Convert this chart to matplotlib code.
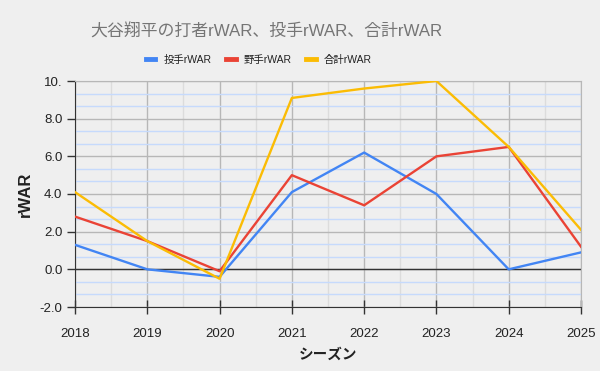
import numpy as np
import matplotlib
matplotlib.use("Agg")
import matplotlib.pyplot as plt
from matplotlib.ticker import MultipleLocator

plt.rcParams['font.family'] = ['Liberation Sans', 'Noto Sans CJK JP', 'DejaVu Sans']

seasons = [2018, 2019, 2020, 2021, 2022, 2023, 2024, 2025]
pitcher = [1.3, 0.0, -0.4, 4.1, 6.2, 4.0, 0.0, 0.9]
batter = [2.8, 1.5, -0.1, 5.0, 3.4, 6.0, 6.5, 1.2]
total = [4.1, 1.5, -0.5, 9.1, 9.6, 10.0, 6.5, 2.1]
series_names = ["投手rWAR", "野手rWAR", "合計rWAR"]
ytick_vals = [-2, 0, 2, 4, 6, 8, 10]
ytick_labels = ["-2.0", "0.0", "2.0", "4.0", "6.0", "8.0", "10."]

bg = '#efefef'
fig = plt.figure(figsize=(6, 3.71), dpi=100, facecolor=bg)
ax = fig.add_axes([75/600, 1-307/371, 506/600, 226/371], facecolor=bg)

# grid
ax.xaxis.set_minor_locator(MultipleLocator(0.5))
ax.yaxis.set_minor_locator(MultipleLocator(2/3))
ax.grid(which='major', axis='both', color='#b7b7b7', lw=1, zorder=1)
ax.grid(which='minor', axis='y', color='#c6dafc', lw=1, zorder=0.5)
ax.grid(which='minor', axis='x', color='#dcdcdc', lw=1, zorder=0.5)
ax.axhline(0, color='#333333', lw=1, zorder=2)

l1, = ax.plot(seasons, pitcher, color='#4285F4', lw=1.7, label=series_names[0], zorder=3)
l2, = ax.plot(seasons, batter, color='#EA4335', lw=1.7, label=series_names[1], zorder=3)
l3, = ax.plot(seasons, total, color='#FBBC04', lw=1.7, label=series_names[2], zorder=3)

ax.set_xlim(2018, 2025)
ax.set_ylim(-2, 10)
ax.set_xticks(seasons)
ax.set_xticklabels([str(s) for s in seasons])
ax.set_yticks(ytick_vals)
ax.set_yticklabels(ytick_labels)
ax.tick_params(axis='both', which='minor', length=0)
ax.tick_params(axis='x', which='major', direction='inout', length=10, width=1, color='#333333',
               labelsize=9.5, labelcolor='#222222', pad=10)
ax.tick_params(axis='y', which='major', direction='out', length=6, width=1, color='#333333',
               labelsize=9.5, labelcolor='#222222', pad=3)

for s in ['top', 'right']:
    ax.spines[s].set_color('#b7b7b7')
for s in ['left', 'bottom']:
    ax.spines[s].set_color('#333333')

ax.set_xlabel("シーズン", fontsize=10.5, fontweight='bold', color='#222222', labelpad=6)
ax.set_ylabel("rWAR", fontsize=12, fontweight='bold', color='#222222', labelpad=5)

fig.text(266/600, 1-32/371, "大谷翔平の打者rWAR、投手rWAR、合計rWAR", ha='center', va='center',
         fontsize=12.2, color='#757575')

leg = fig.legend(handles=[l1, l2, l3], loc='center', bbox_to_anchor=(259/600, 1-60/371), ncol=3,
                 frameon=False, fontsize=7.5, handlelength=0.9, handletextpad=0.8,
                 columnspacing=1.4)
for h in leg.get_lines():
    h.set_linewidth(3.5)
for t in leg.get_texts():
    t.set_color('#222222')

fig.savefig("out.png", dpi=100, facecolor=bg)
